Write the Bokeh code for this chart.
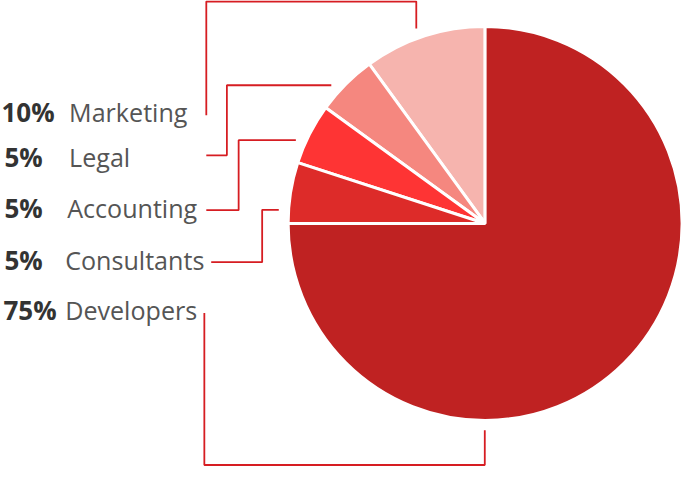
import math
from bokeh.plotting import figure
from bokeh.models import Range1d, ColumnDataSource
from bokeh.core.properties import value
from bokeh.embed import file_html
from bokeh.resources import INLINE

# ---- data ----
categories = ["Marketing", "Legal", "Accounting", "Consultants", "Developers"]
shares = [10, 5, 5, 5, 75]
pct_labels = ["10%", "5%", "5%", "5%", "75%"]
colors = ["#f6b4ae", "#f5877f", "#fe3434", "#dd2b29", "#bf2222"]

# ---- layout (reference pixel space, y downwards) ----
REF_H = 483
CX, CY, R = 496.5, 231.5, 201.0
LEAD_R = 211.0
LEAD_FRAC = [0.54, 0.67, 0.68, 0.79, 0.333]   # where on each slice the leader lands
ROW_MID = [117.5, 164, 216, 269, 319.5]        # vertical centre of each label row
PCT_X, NAME_X = [3, 6, 6, 6, 5], [72, 72, 70, 68, 68]
LINE_COL = "#d61d22"

def Y(y):
    return REF_H - y

W, H = 682, 467
S = 0.98
X0, YTOP = 2.0, 4.0
p = figure(width=W, height=H, output_backend="svg", toolbar_location=None,
           x_range=Range1d(X0, X0 + W / S),
           y_range=Range1d(Y(YTOP + H / S), Y(YTOP)),
           min_border=0, outline_line_color=None, background_fill_color="white",
           border_fill_color="white")
p.axis.visible = False
p.grid.visible = False

total = sum(shares)
starts, ends, anchors = [], [], []
acc = 0.0
for s, f in zip(shares, LEAD_FRAC):
    a0 = 90 + 360 * acc / total
    a1 = a0 + 360 * s / total
    starts.append(math.radians(a0))
    ends.append(math.radians(a1))
    am = math.radians(a0 + f * (a1 - a0))
    anchors.append((CX + LEAD_R * math.cos(am), CY - LEAD_R * math.sin(am)))
    acc += s

src = ColumnDataSource(dict(start=starts, end=ends, color=colors, cat=categories))
p.wedge(x=CX, y=Y(CY), radius=R, start_angle="start", end_angle="end",
        direction="anticlock", fill_color="color", line_color="white",
        line_width=3, source=src)

# leader lines
routes = []
ax, ay = anchors[0]
routes.append([(212, 121), (212, 5), (ax, 5), (ax, ay)])
ax, ay = anchors[1]
routes.append([(212, 162), (233, 162), (233, ay), (ax, ay)])
ax, ay = anchors[2]
routes.append([(212, 218), (245, 218), (245, ay), (ax, ay)])
ax, ay = anchors[3]
routes.append([(217, 271), (269, 271), (269, ay), (ax, ay)])
ax, ay = anchors[4]
routes.append([(210, 323), (210, 478), (ax, 478), (ax, ay)])

p.multi_line(xs=[[pt[0] for pt in r] for r in routes],
             ys=[[Y(pt[1]) for pt in r] for r in routes],
             line_color=LINE_COL, line_width=1.8)

p.text(x=PCT_X, y=[Y(b) for b in ROW_MID], text=pct_labels,
       text_font=value("Open Sans"), text_font_style="bold",
       text_font_size="%.1fpx" % (26.5 * S), text_color="#333333",
       text_align="left", text_baseline="middle")
p.text(x=NAME_X, y=[Y(b) for b in ROW_MID], text=categories,
       text_font=value("Open Sans"), text_font_style="normal",
       text_font_size="%.1fpx" % (25.6 * S), text_color="#555555",
       text_align="left", text_baseline="middle")

open("out.html", "w").write(file_html(p, INLINE))
